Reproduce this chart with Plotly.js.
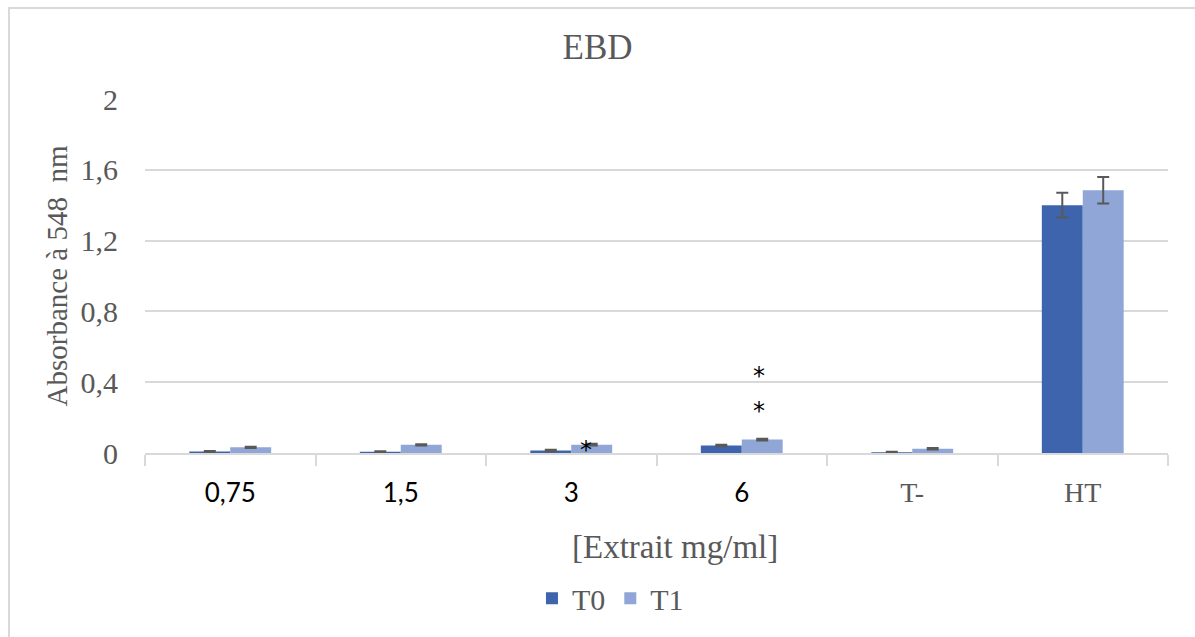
<!DOCTYPE html>
<html>
<head>
<meta charset="utf-8">
<script src="https://cdn.plot.ly/plotly-3.0.1.min.js"></script>
<style>
html,body{margin:0;padding:0;background:#fff;}
#chart{position:absolute;left:0;top:0;width:1195px;height:637px;}
#frame{position:absolute;left:8px;top:7px;width:1200px;height:640px;border-left:2px solid #d9d9d9;border-top:2px solid #d9d9d9;pointer-events:none;}
</style>
</head>
<body>
<div id="chart"></div>
<div id="frame"></div>
<script>
const categories = ["0,75", "1,5", "3", "6", "T-", "HT"];
const sansTick = 'font-family:Lato, Open Sans, sans-serif;fill:#000000;font-size:26px';
const tickLabels = [
  '<span style="' + sansTick + '">0,75</span>',
  '<span style="' + sansTick + '">1,5</span>',
  '<span style="' + sansTick + '">3</span>',
  '<span style="' + sansTick + '">6</span>',
  'T-',
  'HT'
];
const t0Values = [0.008, 0.007, 0.014, 0.042, 0.004, 1.40];
const t1Values = [0.032, 0.046, 0.047, 0.076, 0.024, 1.485];
const t0Errors = [0.003, 0.003, 0.004, 0.004, 0.003, 0.07];
const t1Errors = [0.004, 0.004, 0.005, 0.005, 0.004, 0.075];
// significance marks: category, y value of the star centre, horizontal offset in px
const starCats = ["3", "6", "6"];
const starY = [0.034, 0.254, 0.454];
const starShift = [15, 17, 17];
const xTitle = "[Extrait mg/ml]";

const serif = "Liberation Serif, Times New Roman, serif";
const grey = "#595959";

const traces = [
  {
    type: "bar", name: "T0", x: categories, y: t0Values,
    marker: {color: "#3d64ac"},
    error_y: {type: "data", array: t0Errors, visible: true, color: "#595959", thickness: 2, width: 6}
  },
  {
    type: "bar", name: "T1", x: categories, y: t1Values,
    marker: {color: "#8fa6d6"},
    error_y: {type: "data", array: t1Errors, visible: true, color: "#595959", thickness: 2, width: 6}
  }
];

const annotations = starCats.map((c, i) => ({
  x: categories.indexOf(c), y: starY[i], xref: "x", yref: "y", text: "*", showarrow: false,
  xshift: starShift[i], yshift: -3, borderpad: 0,
  font: {family: "DejaVu Sans, sans-serif", size: 24, color: "#000"}
}));
annotations.push({
  x: 0.518, xref: "paper", xanchor: "center", y: -0.265, yref: "paper", yanchor: "middle",
  text: xTitle, showarrow: false, font: {family: serif, size: 33, color: grey}
});

const layout = {
  width: 1195, height: 637,
  margin: {l: 145, r: 27, t: 99, b: 184},
  paper_bgcolor: "#ffffff", plot_bgcolor: "#ffffff",
  separators: ", ",
  barmode: "group", bargap: 0.52, bargroupgap: 0,
  title: {text: "EBD", x: 0.5, xanchor: "center", y: 0.926, yanchor: "middle",
          font: {family: serif, size: 35, color: grey}},
  xaxis: {
    type: "category", tickvals: categories, ticktext: tickLabels, range: [-0.5, 5.5],
    showline: true, linecolor: "#d9d9d9", linewidth: 2,
    ticks: "outside", tickson: "boundaries", ticklen: 11, tickcolor: "#d9d9d9", tickwidth: 2,
    tickfont: {family: serif, size: 28, color: grey},
    ticklabelstandoff: 13,
    showgrid: false, zeroline: false
  },
  yaxis: {
    range: [0, 2], tickvals: [0, 0.4, 0.8, 1.2, 1.6, 2],
    showgrid: true, gridcolor: "#d9d9d9", gridwidth: 2,
    zeroline: false, showline: false, ticks: "",
    tickfont: {family: serif, size: 30, color: grey},
    ticklabelstandoff: 26,
    title: {text: "Absorbance à 548  nm", font: {family: serif, size: 29, color: grey}, standoff: 4}
  },
  legend: {orientation: "h", x: 0.455, xanchor: "center", y: -0.41, yanchor: "middle",
           font: {family: serif, size: 30, color: grey}, itemwidth: 30, traceorder: "normal"},
  annotations: annotations,
  showlegend: true
};

Plotly.newPlot("chart", traces, layout, {displayModeBar: false, staticPlot: true});
</script>
</body>
</html>
